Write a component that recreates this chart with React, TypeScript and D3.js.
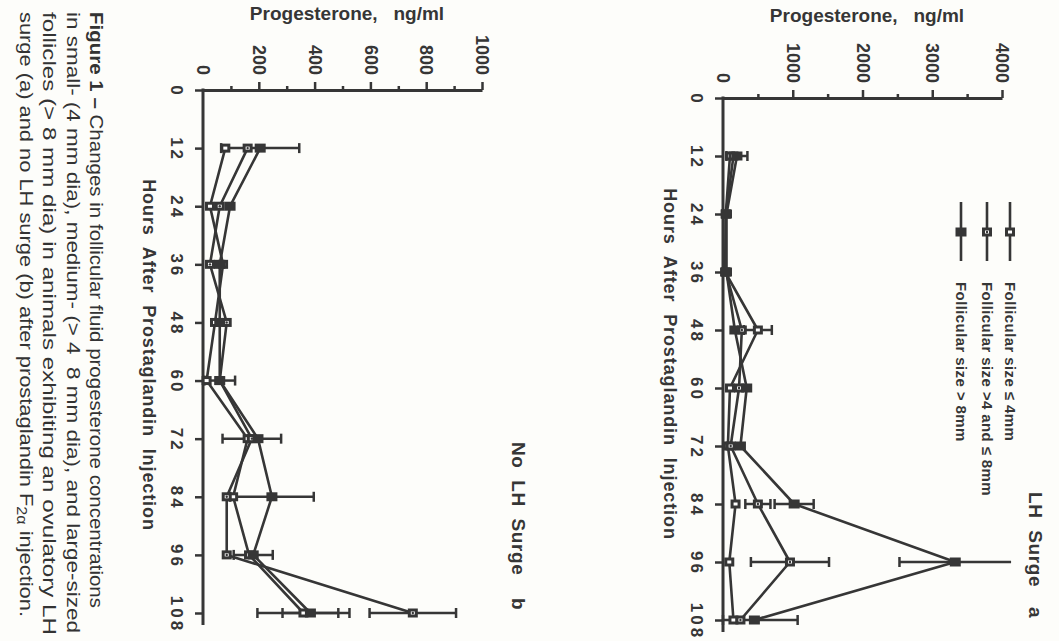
import { useEffect, useRef } from 'react';
import * as d3 from 'd3';

const hours = [12, 24, 36, 48, 60, 72, 84, 96, 108];
const hourTicks = [0, 12, 24, 36, 48, 60, 72, 84, 96, 108];

// panel a: LH surge
const surgeSmall = [100, 40, 30, 500, 100, 70, 180, 90, 150];
const surgeSmallErr = [0, 0, 0, 200, 0, 0, 0, 0, 0];
const surgeMedium = [150, 40, 40, 270, 230, 110, 500, 960, 250];
const surgeMediumErr = [0, 0, 0, 0, 0, 0, 180, 560, 0];
const surgeLarge = [200, 50, 50, 170, 340, 250, 1020, 3330, 450];
const surgeLargeErr = [150, 0, 0, 0, 0, 0, 280, 800, 620];
const surgeTicks = [0, 1000, 2000, 3000, 4000];
const surgeMinor = [500, 1500, 2500, 3500];

// panel b: no LH surge
const noSurgeSmall = [80, 25, 72, 43, 13, 160, 108, 165, 360];
const noSurgeSmallErr = [0, 0, 0, 0, 0, 0, 0, 0, 165];
const noSurgeMedium = [160, 60, 25, 85, 60, 175, 85, 85, 752];
const noSurgeMediumErr = [0, 0, 0, 0, 0, 105, 0, 0, 155];
const noSurgeLarge = [205, 97, 60, 60, 60, 197, 247, 180, 385];
const noSurgeLargeErr = [140, 0, 0, 0, 55, 0, 150, 70, 100];
const noSurgeTicks = [0, 200, 400, 600, 800, 1000];
const noSurgeMinor = [100, 300, 500, 700, 900];

const legendLabels = [
  'Follicular size \u2264 4mm',
  'Follicular size >4 and \u2264 8mm',
  'Follicular size > 8mm',
];
const markerKinds = ['open', 'dot', 'filled'];

const captionLines = [
  'Changes in follicular fluid progesterone concentrations',
  'in small- (4 mm dia), medium- (> 4  8 mm dia), and large-sized',
  'follicles (> 8 mm dia) in animals exhibiting an ovulatory LH',
  'surge (a) and no LH surge (b) after prostaglandin F',
];

const W = 1059;
const H = 641;
const ink = '#363636';
const font = '"Liberation Sans", Arial, Helvetica, sans-serif';

type Sel = d3.Selection<SVGGElement, unknown, null, undefined>;

const drawMarker = (g: Sel, kind: string, cx: number, cy: number) => {
  if (kind === 'filled') {
    g.append('rect')
      .attr('x', cx - 5.5).attr('y', cy - 4.5)
      .attr('width', 11).attr('height', 9)
      .attr('fill', ink);
    return;
  }
  g.append('rect')
    .attr('x', cx - 3.5).attr('y', cy - 3)
    .attr('width', 7).attr('height', 6)
    .attr('fill', '#fff')
    .attr('stroke', ink)
    .attr('stroke-width', 3);
  if (kind === 'dot') {
    g.append('circle').attr('cx', cx).attr('cy', cy).attr('r', 1.2).attr('fill', ink);
  }
};

interface Panel {
  hourRange: [number, number];
  valueDomain: [number, number];
  valueRange: [number, number];
  ticks: number[];
  minor: number[];
  series: { values: number[]; errors: number[] }[];
  title: string;
  letter: string;
  titleX: number;
  titleY: number;
  letterY: number;
  yTitleX: number;
  yTitleY: number;
  xTitleX: number;
  xTitleY: number;
}

const panels: Panel[] = [
  {
    hourRange: [98, 620],
    valueDomain: [0, 4000],
    valueRange: [723, 1002],
    ticks: surgeTicks,
    minor: surgeMinor,
    series: [
      { values: surgeSmall, errors: surgeSmallErr },
      { values: surgeMedium, errors: surgeMediumErr },
      { values: surgeLarge, errors: surgeLargeErr },
    ],
    title: 'LH  Surge',
    letter: 'a',
    titleX: 1035,
    titleY: 492,
    letterY: 607,
    yTitleX: 867,
    yTitleY: 22,
    xTitleX: 670,
    xTitleY: 364,
  },
  {
    hourRange: [90, 613],
    valueDomain: [0, 1000],
    valueRange: [203, 482],
    ticks: noSurgeTicks,
    minor: noSurgeMinor,
    series: [
      { values: noSurgeSmall, errors: noSurgeSmallErr },
      { values: noSurgeMedium, errors: noSurgeMediumErr },
      { values: noSurgeLarge, errors: noSurgeLargeErr },
    ],
    title: 'No  LH  Surge',
    letter: 'b',
    titleX: 518,
    titleY: 442,
    letterY: 598,
    yTitleX: 347,
    yTitleY: 20,
    xTitleX: 149,
    xTitleY: 355,
  },
];

const drawPanel = (root: Sel, p: Panel) => {
  const y = d3.scaleLinear().domain([0, 108]).range(p.hourRange);
  const x = d3.scaleLinear().domain(p.valueDomain).range(p.valueRange);
  const g = root.append('g');

  // hours axis (vertical on the page)
  const ha = g.append('g')
    .attr('transform', `translate(${x(0)},0)`)
    .call(d3.axisLeft(y).tickValues(hourTicks).tickSize(8).tickSizeOuter(0).tickFormat(d3.format('d')));
  ha.select('.domain').remove();
  ha.selectAll('line').attr('stroke', ink).attr('stroke-width', 2.5);
  ha.selectAll('text')
    .attr('transform', 'rotate(90)')
    .attr('x', 1)
    .attr('y', 26)
    .attr('dy', '0.35em')
    .attr('text-anchor', 'middle')
    .attr('font-family', font)
    .attr('font-size', 17)
    .attr('font-weight', 700)
    .attr('letter-spacing', 3)
    .attr('fill', ink);

  g.append('line')
    .attr('x1', x(0)).attr('x2', x(0))
    .attr('y1', y(0) - 1.5).attr('y2', y(110.5))
    .attr('stroke', ink)
    .attr('stroke-width', 3);

  // progesterone axis (horizontal on the page)
  const va = g.append('g')
    .attr('transform', `translate(0,${y(0)})`)
    .call(d3.axisTop(x).tickValues(p.ticks).tickSize(8).tickSizeOuter(0).tickFormat(d3.format('d')));
  va.select('.domain').attr('stroke', ink).attr('stroke-width', 3);
  va.selectAll('line').attr('stroke', ink).attr('stroke-width', 2.5);
  va.selectAll<SVGGElement, number>('.tick').filter(d => d === 0).select('line').remove();
  va.selectAll('text')
    .attr('transform', 'rotate(90)')
    .attr('x', -15)
    .attr('y', 0)
    .attr('dy', '0.35em')
    .attr('text-anchor', 'end')
    .attr('font-family', font)
    .attr('font-size', 18)
    .attr('font-weight', 700)
    .attr('fill', ink);

  const mi = g.append('g')
    .attr('transform', `translate(0,${y(0)})`)
    .call(d3.axisTop(x).tickValues(p.minor).tickSize(4).tickFormat(() => ''));
  mi.select('.domain').remove();
  mi.selectAll('line').attr('stroke', ink).attr('stroke-width', 2.5);

  // series lines
  const line = d3.line<number>()
    .x(d => x(d))
    .y((_, i) => y(hours[i]));

  p.series.forEach(s => {
    g.append('path')
      .attr('d', line(s.values))
      .attr('fill', 'none')
      .attr('stroke', ink)
      .attr('stroke-width', 2.6)
      .attr('stroke-linejoin', 'round');
  });

  // error bars
  const [, vmax] = p.valueDomain;
  p.series.forEach(s => {
    s.values.forEach((v, i) => {
      const e = s.errors[i];
      if (!e) return;
      const cy = y(hours[i]);
      const lo = Math.max(0, v - e);
      const hi = v + e;
      g.append('line')
        .attr('x1', x(lo)).attr('x2', x(hi))
        .attr('y1', cy).attr('y2', cy)
        .attr('stroke', ink).attr('stroke-width', 2.5);
      [lo, hi].forEach(c => {
        if (c > vmax) return;
        g.append('line')
          .attr('x1', x(c)).attr('x2', x(c))
          .attr('y1', cy - 5).attr('y2', cy + 5)
          .attr('stroke', ink).attr('stroke-width', 2.5);
      });
    });
  });

  // markers
  p.series.forEach((s, k) => {
    s.values.forEach((v, i) => drawMarker(g, markerKinds[k], x(v), y(hours[i])));
  });

  // titles
  g.append('text')
    .attr('x', p.yTitleX)
    .attr('y', p.yTitleY)
    .attr('text-anchor', 'middle')
    .attr('font-family', font)
    .attr('font-size', 19)
    .attr('font-weight', 700)
    .attr('fill', ink)
    .style('white-space', 'pre')
    .text('Progesterone,   ng/ml');

  g.append('text')
    .attr('transform', `translate(${p.xTitleX},${p.xTitleY}) rotate(90)`)
    .attr('text-anchor', 'middle')
    .attr('dominant-baseline', 'central')
    .attr('font-family', font)
    .attr('font-size', 18)
    .attr('font-weight', 700)
    .attr('letter-spacing', 0.9)
    .attr('fill', ink)
    .style('white-space', 'pre')
    .text('Hours  After  Prostaglandin  Injection');

  g.append('text')
    .attr('transform', `translate(${p.titleX},${p.titleY}) rotate(90)`)
    .attr('dominant-baseline', 'central')
    .attr('font-family', font)
    .attr('font-size', 19)
    .attr('font-weight', 700)
    .attr('letter-spacing', 0.6)
    .attr('fill', ink)
    .style('white-space', 'pre')
    .text(p.title);

  g.append('text')
    .attr('transform', `translate(${p.titleX},${p.letterY}) rotate(90)`)
    .attr('dominant-baseline', 'central')
    .attr('font-family', font)
    .attr('font-size', 19)
    .attr('font-weight', 700)
    .attr('fill', ink)
    .text(p.letter);
};

export default function App() {
  const svgRef = useRef<SVGSVGElement>(null);

  useEffect(() => {
    if (!svgRef.current) return;
    const svg = d3.select(svgRef.current);
    svg.selectAll('*').remove();

    svg.append('rect').attr('width', W).attr('height', H).attr('fill', '#fdfdfa');
    const root = svg.append('g') as unknown as Sel;

    panels.forEach(p => drawPanel(root, p));

    // legend (panel a)
    const legendX = [1010, 987, 961];
    const leg = root.append('g');
    legendLabels.forEach((label, k) => {
      const lx = legendX[k];
      leg.append('line')
        .attr('x1', lx).attr('x2', lx)
        .attr('y1', 202).attr('y2', 261)
        .attr('stroke', ink).attr('stroke-width', 2.6);
      drawMarker(leg as Sel, markerKinds[k], lx, 232);
      leg.append('text')
        .attr('transform', `translate(${lx},282) rotate(90)`)
        .attr('dominant-baseline', 'central')
        .attr('font-family', font)
        .attr('font-size', 15)
        .attr('font-weight', 700)
        .attr('letter-spacing', 0.4)
        .attr('fill', ink)
        .text(label);
    });

    // caption
    const capX = [97, 74, 50, 27];
    const capLen = [596, 621, 623, 605];
    const cap = root.append('g');
    captionLines.forEach((txt, i) => {
      const t = cap.append('text')
        .attr('transform', `translate(${capX[i]},12) rotate(90)`)
        .attr('dominant-baseline', 'central')
        .attr('font-family', font)
        .attr('font-size', 19)
        .attr('fill', '#333')
        .attr('textLength', capLen[i])
        .attr('lengthAdjust', 'spacingAndGlyphs')
        .style('white-space', 'pre');
      if (i === 0) {
        t.append('tspan').attr('font-weight', 700).text('Figure 1 \u2013 ');
      }
      t.append('tspan').text(txt);
      if (i === captionLines.length - 1) {
        t.append('tspan').attr('dy', 5).attr('font-size', 14).text('2\u03b1');
        t.append('tspan').attr('dy', -5).text(' injection.');
      }
    });
  }, []);

  return (
    <svg
      ref={svgRef}
      width={W}
      height={H}
      style={{ position: 'absolute', left: 0, top: 0, display: 'block' }}
    />
  );
}
